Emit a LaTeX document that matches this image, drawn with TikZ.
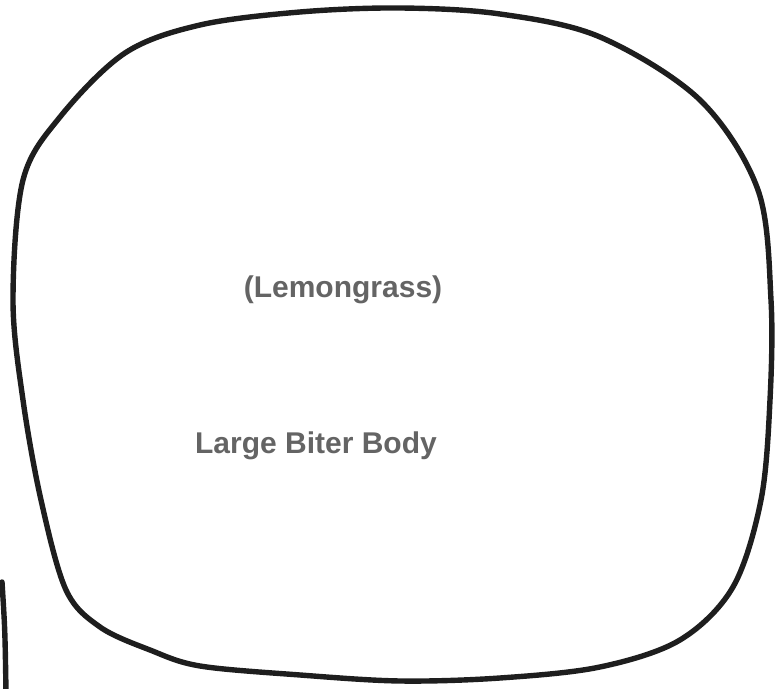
\documentclass[tikz,border=0pt]{standalone}
\usepackage{fontspec}
\setmainfont{Liberation Sans}
\usepackage{tikz}
\definecolor{pencil}{RGB}{30,30,30}
\definecolor{printgray}{RGB}{100,100,100}

\begin{document}
\begin{tikzpicture}[x=0.5pt,y=-0.5pt,
  outline/.style={draw=pencil,line width=2.7pt,line cap=round,line join=round},
  label/.style={text=printgray,inner sep=0pt,anchor=base,font=\fontsize{15}{18}\selectfont\bfseries}]
\useasboundingbox (0,0) rectangle (784,689);
% body outline
\draw[outline] plot[smooth cycle,tension=0.55] coordinates {
  (400,8) (500,14) (600,37) (700,100) (758,190) (771,300) (770,400)
  (761,500) (733,587) (680,640) (600,667) (500,678) (400,681) (300,675)
  (200,666) (150,650) (100,627) (66,590) (41,500) (23,400) (13,300)
  (23,180) (60,117) (125,53) (200,25) (300,12)};
% edge of the next piece
\draw[outline] (2,582) .. controls (5,630) .. (6,692);
\node[label] (name) at (343,298) {(Lemongrass)};
\node[label] (body) at (316,454) {Large Biter Body};
\end{tikzpicture}
\end{document}
